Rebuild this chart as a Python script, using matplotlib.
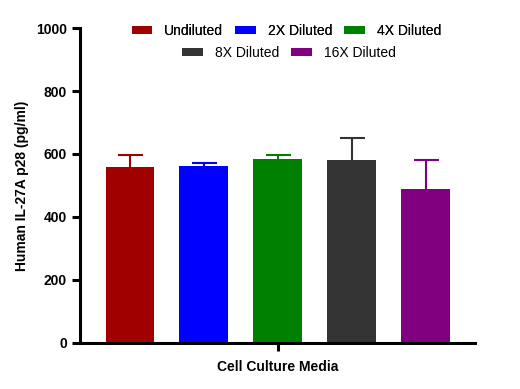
import matplotlib
matplotlib.use("Agg")
import matplotlib.pyplot as plt
from matplotlib.patches import Patch

plt.rcParams['font.family'] = ['Liberation Sans', 'DejaVu Sans']

# data
groups = ["Undiluted", "2X Diluted", "4X Diluted", "8X Diluted", "16X Diluted"]
means = [559, 562, 584, 581, 489]
sd_up = [38, 10, 14, 71, 92]
colors = ["#a00000", "#0000ff", "#008000", "#333333", "#800080"]

fig = plt.figure(figsize=(5.2, 3.89), dpi=100)
ax = fig.add_axes([0.1538, 0.1183, 0.7597, 0.8097])

x = list(range(len(groups)))
for i in x:
    ax.bar(i, means[i], width=0.66, color=colors[i], zorder=2)
    # error bar sits behind the bar so only the upper half shows
    ax.errorbar(i, means[i], yerr=sd_up[i], fmt='none',
                ecolor=colors[i], elinewidth=1.5, capsize=9, capthick=1.5, zorder=1)

ax.set_xlim(-0.676, 4.669)
ax.set_ylim(0, 1000)
ax.set_yticks([0, 200, 400, 600, 800, 1000])
ax.set_xticks([2])
ax.set_xticklabels([""])

for s in ["top", "right"]:
    ax.spines[s].set_visible(False)
for s in ["left", "bottom"]:
    ax.spines[s].set_linewidth(2.2)
ax.tick_params(axis='both', width=2.2, length=6, direction='out')
for lab in ax.get_yticklabels():
    lab.set_fontweight('bold')
    lab.set_fontsize(10)

ax.set_ylabel("Human IL-27A p28 (pg/ml)", fontsize=10, fontweight='bold', labelpad=5)
ax.set_xlabel("Cell Culture Media", fontsize=10, fontweight='bold', labelpad=3)

handles = [Patch(facecolor=c, edgecolor='none') for c in colors]
kw = dict(loc='center', frameon=False, fontsize=10, handlelength=1.5, handleheight=0.5,
          handletextpad=0.86, columnspacing=0.86)
leg1 = fig.legend(handles[:3], groups[:3], bbox_to_anchor=(0.551, 0.921), ncol=3, **kw)
leg2 = fig.legend(handles[3:], groups[3:], bbox_to_anchor=(0.555, 0.864), ncol=2, **kw)
fig.add_artist(leg1)

fig.savefig("out.png", dpi=100)
